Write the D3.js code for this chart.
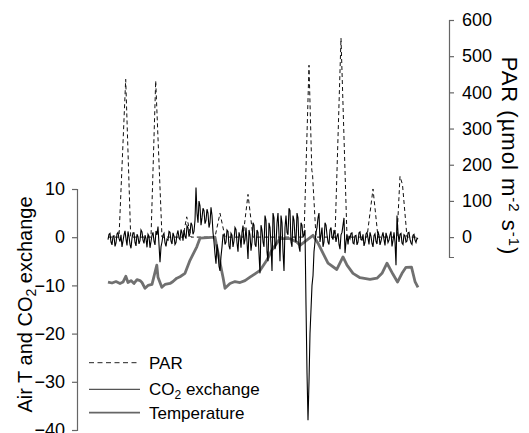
<!DOCTYPE html>
<html><head><meta charset="utf-8">
<script src="https://cdn.jsdelivr.net/npm/d3@7"></script>
<style>
body{margin:0;background:#fff}
svg{display:block}
text{font-family:"Liberation Sans", Arial, Helvetica, sans-serif;}
</style>
</head><body>
<svg id="c" width="529" height="433"></svg>
<script>
// CO2 exchange, one value per half time step (time = index / 2, 0..155)
const co2 = [
 -0.5, 0.6, 0.8, -1.0, -1.6, 0.2, 0.3, -1.9, -1.2, 0.7, 1.0, -0.3, -0.9, 0.5, -2.0, -0.8, 0.5, 1.3, -0.4, -1.7,
 1.2, 0.1, -1.5, -2.3, -0.2, 0.9, 0.9, -1.1, -1.8, 0.6, 0.1, -1.4, -0.7, 1.5, 1.1, -0.6, -1.3, 0.4, -0.3, -2.1,
 0.6, 0.2, -2.2, -0.9, 0.4, 1.0, -0.8, -1.6, 1.3,
 0.5, 2.2, -1.5, -5.2, -2.0, -1.0, 0.4, 0.8, -1.2, -1.9,
 -0.4, -0.6, 1.2, 1.0, -0.8, -1.4, 0.9, 0.2, -1.5, -1.1, 0.6, 1.4, -0.2, -0.5, 1.6, 0.9, -0.7,
 1.5, 0.2, -0.3, 2.4, 2.0, 0.1, 0.8, 3.0, 2.5, 0.6, 1.2, 3.5,
 10.3, 5.0, 3.0, 7.5, 6.5, 2.5, 4.0, 6.0, 5.5, 2.8, 3.5, 5.8, 5.0, 2.0, 3.0, 6.2, 4.5, 1.0, -1.0, -3.5,
 -5.5, -1.5, -3.0, -6.0, -7.0, -4.0, -2.0, 0.5, 0.5, -1.5,
 -1.0, 1.5, 1.2, -1.8, -2.5, 0.8, 0.4, -2.0, -0.8, 2.0, 1.6, -1.2, -3.0, 1.0, 0.2, -2.2, 1.0, 2.4, -1.5, -0.5,
 2.0, -1.0, -4.5, 1.5, 0.5, -2.8, -1.0, 3.0, 2.5, -1.5, -2.0, 1.5, 1.0, -3.5,
 -7.5, 2.5, 1.5, -1.0, -2.0, 4.5, 3.5, -3.0, -5.0, 3.0, 2.0, -1.5, -7.0, 5.0, 4.0, -2.5, -1.5, 3.0, 5.0, 0.5,
 -5.0, 4.5, 3.0, -3.0, -7.0, 2.0, 4.5, 1.0, 0.5, 6.0, 5.5, -1.0, -2.0, 4.5, 3.5, 0.0, -1.0, 5.0, 4.0, -2.0,
 -3.0, 3.0, 2.5, 0.0, 0.5, 1.5,
 -14, -28, -38, -30, -20, -15, -10, -8, -3, -1, 1.0,
 2.0, 4.0, 5.0, -1.0, 0.5, 2.0, -2.0, -1.0, 3.0, 2.5, 0.5, -1.0, -1.5, 1.5, 2.0, 0.0, -0.5, 1.5, 0.8, -1.0,
 0.2, 0.8, -1.5, -2.5, 0.5, 1.0, 2.5, 4.0, -3.3, -1.0, 0.5, -1.5, 0.3,
 -0.3, 0.8, 0.9, -1.2, -1.4, 0.3, 0.4, -1.6, -1.0, 0.9, 1.1, -0.5, -0.6, 0.6, -1.8, -1.1, 0.7, 1.0, -0.2, -1.5,
 1.0, 0.2, -1.3, -2.0, 0.3, 0.7, -0.9, -1.4, 1.2, 0.4, -1.6, -0.8, 0.2, 1.0, -0.5, -1.7, 0.9, 0.1, -1.1, -0.6,
 0.5, 1.2, -1.9, -0.7,
 1.0, -1.0, -5.8, 4.5, 1.0, -1.0, 0.6, 0.8, -1.2, -1.5, 0.5, 0.3, -1.0, -0.8, 0.9, 1.0, -0.4, -1.2, -1.5, 0.4,
 0.6, -0.6, -1.1, -0.2, -0.4
];

// Air temperature
const tempTime = [0, 2, 4, 6, 7.5, 8.9, 10, 11.5, 13, 14.5, 16, 17, 18.5, 20, 22, 24.4, 25, 26.9, 28.5, 31, 32.5, 34.4, 36,
  38.5, 41, 44.4, 46, 53.5, 54.4, 57.5, 58.5, 61, 63.5, 66, 68.5, 71, 73.5, 76, 79.4, 81.9, 86, 91, 94.4, 96, 99.4,
  102.5, 105, 110, 114.4, 117.5, 119.5, 122.5, 126, 131, 134.5, 137, 139.5, 142.5, 144.75, 147, 149, 151.75, 153.5, 155];
const tempValue = [-9.3, -9.5, -9.2, -9.6, -9.3, -8.1, -9.4, -9.0, -9.6, -8.8, -9.0, -9.4, -10.6, -10.0, -9.8, -5.8, -8.3, -10.4, -9.8, -9.6, -9.2, -8.5, -8.2,
  -7.5, -4.8, -2.0, -0.2, 0, -2.0, -8.3, -10.6, -9.6, -9.2, -9.4, -9.0, -8.3, -7.6, -6.9, -4.8, -2.7, -0.3, -0.3, -1.0, -1.7, -0.6,
  0.4, -1.25, -5.4, -6.7, -4.1, -5.8, -7.5, -8.4, -8.75, -8.5, -7.5, -5.4, -7.7, -9.3, -7.5, -6.25, -6.2, -9.2, -10.4];

// PAR
const parTime = [0, 5.5, 8.85, 11.35, 21.5, 23.85, 27, 37.5, 39.35, 41.5, 53.5, 56, 58.5, 67.5, 70, 72.5,
  98, 100.5, 101.9, 102.25, 104, 113.5, 116.5, 119.5, 129.5, 132.5, 135, 144.5, 146, 147.25, 149.5, 155];
const parValue = [0, 0, 436, 0, 0, 432, 0, 0, 56, 0, 0, 66, 0, 0, 118, 0,
  0, 475, 185, 175, 0, 0, 550, 0, 0, 133, 0, 0, 168, 145, 0, 0];

const leftTicks = [10, 0, -10, -20, -30, -40];
const rightTicks = [0, 100, 200, 300, 400, 500, 600];
const legendLabels = ["PAR", "CO2 exchange", "Temperature"];

const svg = d3.select("#c");
const x = d3.scaleLinear().domain([0, 155]).range([108, 418]);
const yL = d3.scaleLinear().domain([-40, 10]).range([430, 189]);
const yR = d3.scaleLinear().domain([-55, 600]).range([257, 20]);

// axes
const axL = svg.append("g").attr("transform", "translate(77,0)")
  .call(d3.axisLeft(yL).tickValues(leftTicks).tickSize(5).tickPadding(7).tickFormat(d3.format("d")));
const axR = svg.append("g").attr("transform", "translate(449,0)")
  .call(d3.axisRight(yR).tickValues(rightTicks).tickSize(5).tickPadding(8).tickSizeOuter(5));
[axL, axR].forEach(a => {
  a.selectAll("path,line").attr("stroke", "#666").attr("stroke-width", 1.2);
  a.selectAll("text").attr("font-size", 18).attr("fill", "#000")
   .attr("font-family", "'Liberation Sans', Arial, sans-serif");
});

// lines
const parLine = d3.line().x((d, i) => x(parTime[i])).y(d => yR(d));
svg.append("path").datum(parValue).attr("d", parLine)
  .attr("fill", "none").attr("stroke", "#111").attr("stroke-width", 1).attr("stroke-dasharray", "4,3");

const tLine = d3.line().x((d, i) => x(tempTime[i])).y(d => yL(d));
svg.append("path").datum(tempValue).attr("d", tLine)
  .attr("fill", "none").attr("stroke", "#707070").attr("stroke-width", 2.8).attr("stroke-linejoin", "round");

const cLine = d3.line().x((d, i) => x(i / 2)).y(d => yL(d));
svg.append("path").datum(co2).attr("d", cLine)
  .attr("fill", "none").attr("stroke", "#000").attr("stroke-width", 1.1);

// titles
const lt = svg.append("text").attr("transform", "translate(32,304.5) rotate(-90)")
  .attr("text-anchor", "middle").attr("font-size", 20).attr("fill", "#000");
lt.append("tspan").text("Air T and CO");
lt.append("tspan").attr("font-size", 14).attr("dy", 4).text("2");
lt.append("tspan").attr("dy", -4).text(" exchange");

const rt = svg.append("text").attr("transform", "translate(502,156) rotate(90)")
  .attr("text-anchor", "middle").attr("font-size", 22).attr("letter-spacing", 1).attr("fill", "#000");
rt.append("tspan").text("PAR (\u00b5mol m");
rt.append("tspan").attr("font-size", 15).attr("dy", -7).text("-2");
rt.append("tspan").attr("dy", 7).text(" s");
rt.append("tspan").attr("font-size", 15).attr("dy", -7).text("-1");
rt.append("tspan").attr("dy", 7).text(")");

// legend
const legY = [362.7, 389.3, 412.7];
const legStyle = [
  {stroke: "#222", w: 1, dash: "5,3.5"},
  {stroke: "#555", w: 1.3, dash: null},
  {stroke: "#666", w: 1.8, dash: null}
];
legendLabels.forEach((lab, i) => {
  svg.append("line").attr("x1", 89).attr("x2", 140).attr("y1", legY[i]).attr("y2", legY[i])
    .attr("stroke", legStyle[i].stroke).attr("stroke-width", legStyle[i].w)
    .attr("stroke-dasharray", legStyle[i].dash);
  const t = svg.append("text").attr("x", 149).attr("y", legY[i] + 6).attr("font-size", 17).attr("fill", "#000");
  if (lab === "CO2 exchange") {
    t.append("tspan").text("CO");
    t.append("tspan").attr("font-size", 12).attr("dy", 4).text("2");
    t.append("tspan").attr("dy", -4).text(" exchange");
  } else {
    t.text(lab);
  }
});
</script>
</body></html>
